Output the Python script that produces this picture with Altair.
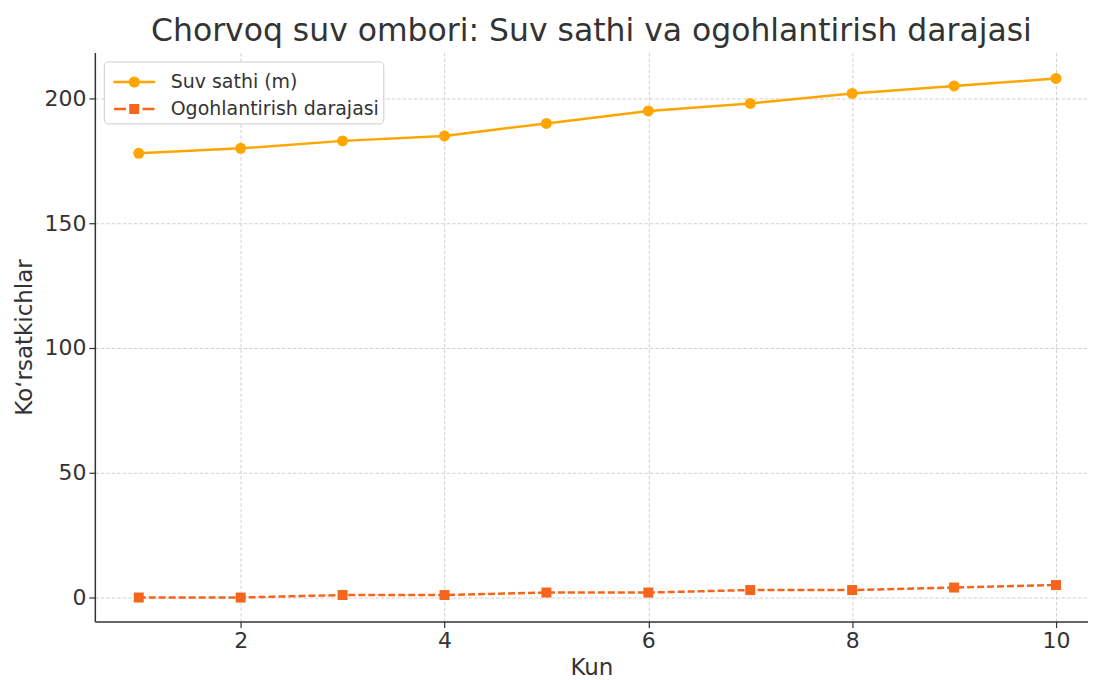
import altair as alt
import pandas as pd

days = [1, 2, 3, 4, 5, 6, 7, 8, 9, 10]
water_level = [178, 180, 183, 185, 190, 195, 198, 202, 205, 208]
warning_level = [0, 0, 1, 1, 2, 2, 3, 3, 4, 5]
series_names = ["Suv sathi (m)", "Ogohlantirish darajasi"]
x_ticks = [2, 4, 6, 8, 10]
y_ticks = [0, 50, 100, 150, 200]

rows = []
for d, v in zip(days, water_level):
    rows.append({"Kun": d, "val": v, "series": series_names[0]})
for d, v in zip(days, warning_level):
    rows.append({"Kun": d, "val": v, "series": series_names[1]})
df = pd.DataFrame(rows)

colors = ["#FFA500", "#F5651C"]
FONT = "DejaVu Sans"

x_enc = alt.X("Kun:Q", title="Kun",
              scale=alt.Scale(domain=[0.569, 10.314], nice=False, zero=False),
              axis=alt.Axis(values=x_ticks, format="d"))
y_enc = alt.Y("val:Q", title="Koʻrsatkichlar",
              scale=alt.Scale(domain=[-9.6, 218.4], nice=False, zero=False),
              axis=alt.Axis(values=y_ticks))

color_scale = alt.Scale(domain=series_names, range=colors)

base = alt.Chart(df)

path_circle = "M-1.4,0H1.4M-0.29,0A0.29,0.29,0,1,1,0.29,0A0.29,0.29,0,1,1,-0.29,0Z"
path_square = "M-1.35,0H-0.55M0.55,0H1.35M-0.25,-0.25H0.25V0.25H-0.25Z"

# legend-carrying layer, drawn first with tiny marks hidden under the real markers
legend_layer = base.mark_point(filled=True, size=1, strokeWidth=2.5, opacity=1).encode(
    x=x_enc, y=y_enc,
    color=alt.Color("series:N", scale=color_scale, title=None),
    stroke=alt.Stroke("series:N", scale=color_scale, title=None),
    shape=alt.Shape("series:N", scale=alt.Scale(domain=series_names, range=[path_circle, path_square]),
                    title=None),
)

line_water = base.mark_line(strokeWidth=2.5, color=colors[0]).encode(
    x=x_enc, y=y_enc,
).transform_filter(alt.datum.series == series_names[0])

line_warn = base.mark_line(strokeWidth=2.5, color=colors[1], strokeDash=[7, 3]).encode(
    x=x_enc, y=y_enc,
).transform_filter(alt.datum.series == series_names[1])

circles = base.mark_point(filled=True, opacity=1, shape="circle", size=121, color=colors[0]).encode(
    x=x_enc, y=y_enc,
).transform_filter(alt.datum.series == series_names[0])

squares = base.mark_point(filled=True, opacity=1, shape="square", size=100, color=colors[1]).encode(
    x=x_enc, y=y_enc,
).transform_filter(alt.datum.series == series_names[1])

chart = alt.layer(legend_layer, line_water, line_warn, circles, squares).properties(
    width=1082, height=672,
    autosize=alt.AutoSizeParams(type="fit", contains="padding"),
    title=alt.TitleParams("Chorvoq suv ombori: Suv sathi va ogohlantirish darajasi",
                          fontSize=31.5, font=FONT, fontWeight="normal", color="#333333",
                          offset=5.5, anchor="middle"),
    padding={"left": 5, "top": 7, "right": 0, "bottom": 0},
).configure_view(stroke=None).configure_axis(
    labelFont=FONT, titleFont=FONT, labelFontSize=22, titleFontSize=23,
    labelColor="#333333", titleColor="#333333", titleFontWeight="normal",
    domainColor="#333333", domainWidth=1.5, tickColor="#333333", tickWidth=1.2, tickSize=6,
    gridColor="#cccccc", gridDash=[3.5, 2], gridWidth=0.9,
    labelPadding=3,
).configure_axisX(titlePadding=5).configure_axisY(titlePadding=7.5).configure_legend(
    orient="top-left", offset=9, padding=4, strokeColor="#cccccc", fillColor="white",
    cornerRadius=4, labelFont=FONT, labelFontSize=19, labelColor="#333333", labelLimit=400,
    symbolSize=900, symbolStrokeWidth=2.5, symbolOffset=10, labelOffset=20, rowPadding=0,
    symbolOpacity=1,
)

chart.save("out.html", embed_options={"renderer": "svg", "actions": False})
